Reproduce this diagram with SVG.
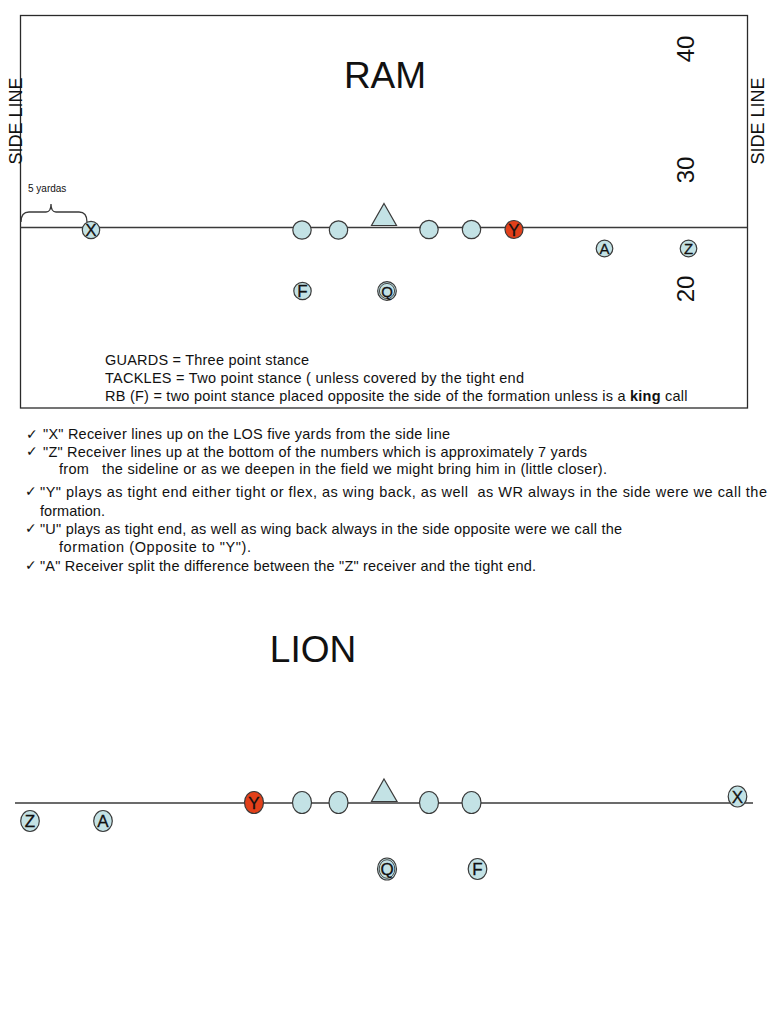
<svg xmlns="http://www.w3.org/2000/svg" width="768" height="1024" viewBox="0 0 768 1024">
<style>
text{font-family:"Liberation Sans",Arial,sans-serif;fill:#111}
.pl{fill:#c3e2e5;stroke:#3a3a3a;stroke-width:1.2}
.red{fill:#e2401a;stroke:#3a3a3a;stroke-width:1.2}
.lt{font-size:17px;text-anchor:middle;stroke:#111;stroke-width:0.3}
.lts{font-size:15px;text-anchor:middle;stroke:#111;stroke-width:0.3}
.body{font-size:14.5px}
.ck{font-size:14px;font-family:"DejaVu Sans",sans-serif}
.num{font-size:24px;text-anchor:middle}
.side{font-size:18px;text-anchor:middle}
.title{font-size:37px;text-anchor:middle}
.line{stroke:#3a3a3a;stroke-width:1.3;fill:none}
</style>
<rect width="768" height="1024" fill="#fff"/>

<g id="ram-field">
<rect x="20.5" y="15.5" width="727" height="392.5" fill="none" stroke="#2a2a2a" stroke-width="1.3"/>
<text class="title" x="385" y="88">RAM</text>
<text class="side" transform="translate(22,121) rotate(-90)">SIDE LINE</text>
<text class="side" transform="translate(764,121) rotate(-90)">SIDE LINE</text>
<text class="num" transform="translate(694,49) rotate(-90)">40</text>
<text class="num" transform="translate(694,170) rotate(-90)">30</text>
<text class="num" transform="translate(694,289) rotate(-90)">20</text>
<text x="28" y="192" style="font-size:10px">5 yardas</text>
<path class="line" d="M21,222 Q21,212 29,212 L46,212 Q51,212 51,204 Q51,212 56,212 L79,212 Q87,212 87,222" stroke-width="1"/>
</g>

<g id="connectors">
<line class="line" x1="20.5" y1="227.5" x2="747.5" y2="227.5"/>
<line class="line" x1="15" y1="803" x2="753" y2="803"/>
</g>

<g id="ram-x"><circle class="pl" cx="91" cy="230" r="8.7"/><text class="lt" x="91" y="236">X</text></g>
<g id="ram-lt"><circle class="pl" cx="302" cy="230" r="9.2"/></g>
<g id="ram-lg"><circle class="pl" cx="338.5" cy="230" r="9.2"/></g>
<g id="ram-c"><polygon class="pl" points="384,203.5 396.5,225.5 371.5,225.5"/></g>
<g id="ram-rg"><circle class="pl" cx="429" cy="229.5" r="9.2"/></g>
<g id="ram-rt"><circle class="pl" cx="471.5" cy="229.5" r="9.2"/></g>
<g id="ram-y"><circle class="red" cx="514" cy="229.5" r="9"/><text class="lt" x="514" y="235.5">Y</text></g>
<g id="ram-a"><circle class="pl" cx="604.5" cy="248.5" r="8.3"/><text class="lts" x="604.5" y="254">A</text></g>
<g id="ram-z"><circle class="pl" cx="688.5" cy="248.5" r="8.3"/><text class="lts" x="688.5" y="254">Z</text></g>
<g id="ram-f"><circle class="pl" cx="302.5" cy="291" r="8.7"/><text class="lt" x="302.5" y="297">F</text></g>
<g id="ram-q"><circle class="pl" cx="387" cy="291" r="9.3" stroke-width="1.5"/><circle cx="387" cy="291" r="7.6" fill="none" stroke="#3a3a3a" stroke-width="0.9"/><text class="lts" x="387" y="296.5">Q</text></g>

<g id="ram-notes">
<text class="body" x="105" y="365" textLength="204">GUARDS = Three point stance</text>
<text class="body" x="105" y="383" textLength="419">TACKLES = Two point stance ( unless covered by the tight end</text>
<text class="body" x="105" y="401" letter-spacing="0.24">RB (F) = two point stance placed opposite the side of the formation unless is a <tspan font-weight="bold">king</tspan> call</text>
</g>

<g id="bullets">
<text class="ck" x="26" y="439">✓</text>
<text class="body" x="43" y="439" textLength="407">"X" Receiver lines up on the LOS five yards from the side line</text>
<text class="ck" x="26" y="456">✓</text>
<text class="body" x="43" y="456.5" textLength="544">"Z" Receiver lines up at the bottom of the numbers which is approximately 7 yards</text>
<text class="body" x="59" y="474" textLength="548" xml:space="preserve">from   the sideline or as we deepen in the field we might bring him in (little closer).</text>
<text class="ck" x="25" y="496">✓</text>
<text class="body" x="40" y="497" textLength="727" xml:space="preserve">"Y" plays as tight end either tight or flex, as wing back, as well  as WR always in the side were we call the</text>
<text class="body" x="40" y="515.5" textLength="65">formation.</text>
<text class="ck" x="25" y="533">✓</text>
<text class="body" x="40" y="534" textLength="582">"U" plays as tight end, as well as wing back always in the side opposite were we call the</text>
<text class="body" x="59" y="552" textLength="192">formation (Opposite to "Y").</text>
<text class="ck" x="25" y="570">✓</text>
<text class="body" x="40" y="570.5" textLength="496">"A" Receiver split the difference between the "Z" receiver and the tight end.</text>
</g>

<g id="lion-title"><text class="title" x="313" y="662">LION</text></g>

<g id="lion-z"><ellipse class="pl" cx="30" cy="821" rx="9.3" ry="10.5"/><text class="lt" x="30" y="827">Z</text></g>
<g id="lion-a"><ellipse class="pl" cx="103" cy="821" rx="9.3" ry="10.5"/><text class="lt" x="103" y="827">A</text></g>
<g id="lion-y"><ellipse class="red" cx="254" cy="802.5" rx="9.5" ry="11"/><text class="lt" x="254" y="808.5">Y</text></g>
<g id="lion-lt"><ellipse class="pl" cx="302" cy="802.5" rx="9.5" ry="11"/></g>
<g id="lion-lg"><ellipse class="pl" cx="338.5" cy="802.5" rx="9.5" ry="11"/></g>
<g id="lion-c"><polygon class="pl" points="384,779 397,801.5 371.5,801.5"/></g>
<g id="lion-rg"><ellipse class="pl" cx="429" cy="802.5" rx="9.5" ry="11"/></g>
<g id="lion-rt"><ellipse class="pl" cx="471.5" cy="802.5" rx="9.5" ry="11"/></g>
<g id="lion-x"><ellipse class="pl" cx="737.5" cy="796.5" rx="9.3" ry="10.5"/><text class="lt" x="737.5" y="802.5">X</text></g>
<g id="lion-q"><ellipse class="pl" cx="387" cy="869" rx="9.5" ry="11" stroke-width="1.5"/><ellipse cx="387" cy="869" rx="7.8" ry="9.3" fill="none" stroke="#3a3a3a" stroke-width="0.9"/><text class="lt" x="387" y="875">Q</text></g>
<g id="lion-f"><ellipse class="pl" cx="477.5" cy="869" rx="9.3" ry="10.5"/><text class="lt" x="477.5" y="875">F</text></g>
</svg>
